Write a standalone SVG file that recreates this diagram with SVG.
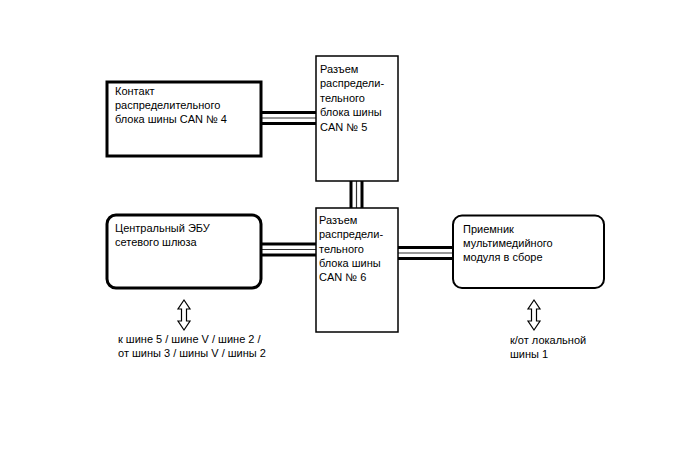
<svg xmlns="http://www.w3.org/2000/svg" width="688" height="463" viewBox="0 0 688 463">
<style>
text{font-family:"Liberation Sans",Arial,sans-serif;font-size:11px;fill:#000}
.bo{stroke:#000;stroke-width:14}
.bw{stroke:#fff;stroke-width:8}
.bc{stroke:#333;stroke-width:1.2}
.thick{fill:#fff;stroke:#000;stroke-width:3}
.thin{fill:#fff;stroke:#000;stroke-width:1.5}
.arr{fill:#fff;stroke:#000;stroke-width:1.2;stroke-linejoin:miter}
</style>
<rect width="688" height="463" fill="#fff"/>
<g id="connectors">
<line class="bo" x1="260" y1="118" x2="317" y2="118"/><line class="bw" x1="260" y1="118" x2="317" y2="118"/><line class="bc" x1="260" y1="118" x2="317" y2="118"/>
<line class="bo" x1="260" y1="249.5" x2="317" y2="249.5"/><line class="bw" x1="260" y1="249.5" x2="317" y2="249.5"/><line class="bc" x1="260" y1="249.5" x2="317" y2="249.5"/>
<line class="bo" x1="397" y1="253" x2="454" y2="253"/><line class="bw" x1="397" y1="253" x2="454" y2="253"/><line class="bc" x1="397" y1="253" x2="454" y2="253"/>
<line class="bo" x1="356.5" y1="180" x2="356.5" y2="209"/><line class="bw" x1="356.5" y1="180" x2="356.5" y2="209"/><line class="bc" x1="356.5" y1="180" x2="356.5" y2="209"/>
</g>
<g id="node-can4">
<rect class="thick" x="107" y="82" width="154" height="74"/>
<text x="115" y="94.5">Контакт</text>
<text x="115" y="108.5">распределительного</text>
<text x="115" y="122.5">блока шины CAN № 4</text>
</g>
<g id="node-can5">
<rect class="thin" x="316" y="56" width="82" height="125"/>
<text x="320" y="72.5">Разъем</text>
<text x="320" y="87">распредели-</text>
<text x="320" y="101.5">тельного</text>
<text x="320" y="116">блока шины</text>
<text x="320" y="130.5">CAN № 5</text>
</g>
<g id="node-can6">
<rect class="thin" x="316" y="208" width="82" height="124"/>
<text x="319" y="224">Разъем</text>
<text x="319" y="238.3">распредели-</text>
<text x="319" y="252.6">тельного</text>
<text x="319" y="266.9">блока шины</text>
<text x="319" y="281.2">CAN № 6</text>
</g>
<g id="node-gateway">
<rect class="thick" x="107" y="215" width="154" height="73" rx="9"/>
<text x="115" y="232">Центральный ЭБУ</text>
<text x="115" y="245.5">сетевого шлюза</text>
</g>
<g id="node-multimedia">
<rect fill="#fff" stroke="#000" stroke-width="2" x="453" y="215.5" width="151" height="72.5" rx="9"/>
<text x="463" y="232.5">Приемник</text>
<text x="463" y="246.8">мультимедийного</text>
<text x="463" y="261">модуля в сборе</text>
</g>
<g id="arrow-left">
<path class="arr" d="M184,300 L190,309 L186.5,309 L186.5,321 L190,321 L184,330 L178,321 L181.5,321 L181.5,309 L178,309 Z"/>
<text x="118" y="343">к шине 5 / шине V / шине 2 /</text>
<text x="118" y="357">от шины 3 / шины V / шины 2</text>
</g>
<g id="arrow-right">
<path class="arr" d="M534,300 L540,309 L536.5,309 L536.5,321 L540,321 L534,330 L528,321 L531.5,321 L531.5,309 L528,309 Z"/>
<text x="510" y="344">к/от локальной</text>
<text x="510" y="358">шины 1</text>
</g>
</svg>
